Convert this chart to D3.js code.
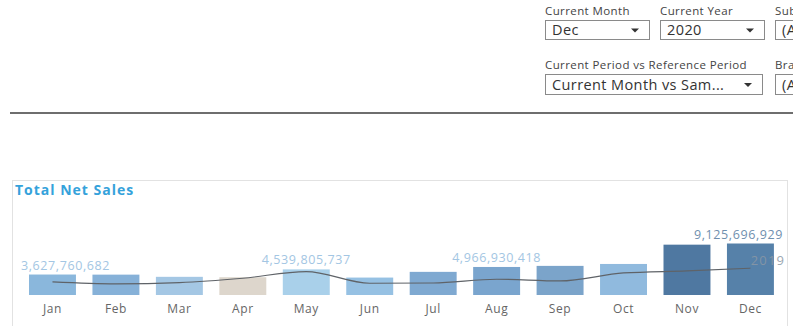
<!DOCTYPE html>
<html lang="en">
  <head>
    <meta charset="utf-8">
    <title>Total Net Sales</title>
    <script src="https://d3js.org/d3.v7.min.js"></script>
    <style>
      body { margin: 0; background: #fff; font-family: "Open Sans", "Noto Sans", sans-serif; }
      #my_dataviz { position: relative; width: 793px; height: 326px; overflow: hidden; }
    </style>
  </head>
  <body>
    <div id="my_dataviz"></div>

    <script>
      // data
      const months = ["Jan","Feb","Mar","Apr","May","Jun","Jul","Aug","Sep","Oct","Nov","Dec"];
      const sales2020 = [3627760682, 3610000000, 3220000000, 3150000000, 4539805737, 3090000000,
                         4100000000, 4966930418, 5160000000, 5500000000, 8920000000, 9125696929];
      const sales2019 = [2310000000, 1960000000, 2190000000, 2970000000, 4150000000, 2080000000,
                         2130000000, 2790000000, 2490000000, 3910000000, 4270000000, 4750000000];
      const barColors = ["#8ab7dc","#86b1d8","#a4c7e4","#ddd6cc","#a9d0ea","#96c1e3",
                         "#7fa9d1","#7aa5ce","#7ba4ca","#90bade","#4f78a1","#5681a9"];
      const labelled = ["Jan","May","Aug","Dec"];
      const refLabel = "2019";

      // filters at the top (the right-hand ones are cut by the window, as in the dashboard)
      const filters = [
        {label: "Current Month", value: "Dec", x: 545, y: 20, w: 104, h: 19},
        {label: "Current Year", value: "2020", x: 660, y: 20, w: 104, h: 19},
        {label: "Subcategory", value: "(All)", x: 775, y: 20, w: 104, h: 19},
        {label: "Current Period vs Reference Period", value: "Current Month vs Sam...", x: 545, y: 74, w: 217, h: 20},
        {label: "Brand", value: "(All)", x: 775, y: 74, w: 104, h: 20}
      ];

      const W = 793, H = 326;
      const svg = d3.select("#my_dataviz").append("svg")
        .attr("width", W).attr("height", H);

      filters.forEach(f => {
        const g = svg.append("g").attr("transform", `translate(${f.x},${f.y})`);
        g.append("text").attr("x", 0).attr("y", -5)
          .style("font-size", "11.5px").style("letter-spacing", "0.4px")
          .style("fill", "#444").text(f.label);
        g.append("rect").attr("x", 0.5).attr("y", 0.5).attr("width", f.w).attr("height", f.h)
          .attr("fill", "#fff").attr("stroke", "#8a8a8a");
        g.append("text").attr("x", 7).attr("y", f.h - 4)
          .style("font-size", "14.5px").style("letter-spacing", "0.4px")
          .style("fill", "#333").text(f.value);
        g.append("path").attr("d", `M${f.w - 18},${f.h / 2 - 1} l8,0 l-4,4 z`).attr("fill", "#333");
      });

      svg.append("line").attr("x1", 10).attr("x2", W).attr("y1", 113).attr("y2", 113)
        .attr("stroke", "#6e6e6e").attr("stroke-width", 2);

      // panel
      svg.append("rect").attr("x", 12.5).attr("y", 180.5).attr("width", 775).attr("height", 160)
        .attr("fill", "none").attr("stroke", "#e2e2e2");
      svg.append("text").attr("x", 15).attr("y", 195)
        .style("font-size", "14px").style("font-weight", "bold").style("letter-spacing", "1px")
        .style("fill", "#35a2db")
        .text("Total Net Sales");

      const baseY = 295;
      const x = d3.scaleBand().domain(months).range([20.75, 782.15]).paddingInner(0.26).paddingOuter(0.13);
      const y = d3.scaleLinear().domain([0, 9125696929]).range([baseY, baseY - 51.5]);

      svg.selectAll(".bar").data(months).enter().append("rect")
        .attr("class", "bar")
        .attr("x", d => x(d)).attr("width", x.bandwidth())
        .attr("y", (d, i) => y(sales2020[i]))
        .attr("height", (d, i) => baseY - y(sales2020[i]))
        .attr("fill", (d, i) => barColors[i]);

      const xAxis = d3.axisBottom(x).tickSize(0).tickPadding(9);
      const ax = svg.append("g").attr("transform", `translate(0,${baseY})`).call(xAxis);
      ax.select(".domain").remove();
      ax.selectAll("text").style("font-size", "12px").style("letter-spacing", "0.6px")
        .style("fill", "#666").style("font-family", "'Open Sans', sans-serif");

      // reference year line
      const line = d3.line().curve(d3.curveMonotoneX)
        .x((d, i) => x(months[i]) + x.bandwidth() / 2)
        .y(d => y(d));
      svg.append("path").datum(sales2019).attr("d", line)
        .attr("fill", "none").attr("stroke", "#5f6368").attr("stroke-width", 1.2);

      // value labels, kept inside the panel
      const fmt = d3.format(",");
      labelled.forEach(m => {
        const i = months.indexOf(m);
        const t = svg.append("text")
          .attr("x", x(m) + x.bandwidth() / 2).attr("y", y(sales2020[i]) - 5)
          .attr("text-anchor", "middle")
          .style("font-size", "12.5px").style("letter-spacing", "0.6px")
          .style("fill", m === "Dec" ? "#6f8fae" : "#a3c6e3")
          .text(fmt(sales2020[i]));
        const bb = t.node().getBBox();
        if (bb.x < 21) t.attr("x", +t.attr("x") + (21 - bb.x));
        if (bb.x + bb.width > 783) t.attr("x", +t.attr("x") - (bb.x + bb.width - 783));
      });

      svg.append("text").attr("x", 768).attr("y", 265)
        .attr("text-anchor", "middle")
        .style("font-size", "13px").style("letter-spacing", "1.2px")
        .style("fill", "#8b98a5").style("opacity", 0.85)
        .text(refLabel);
    </script>
  </body>
</html>
